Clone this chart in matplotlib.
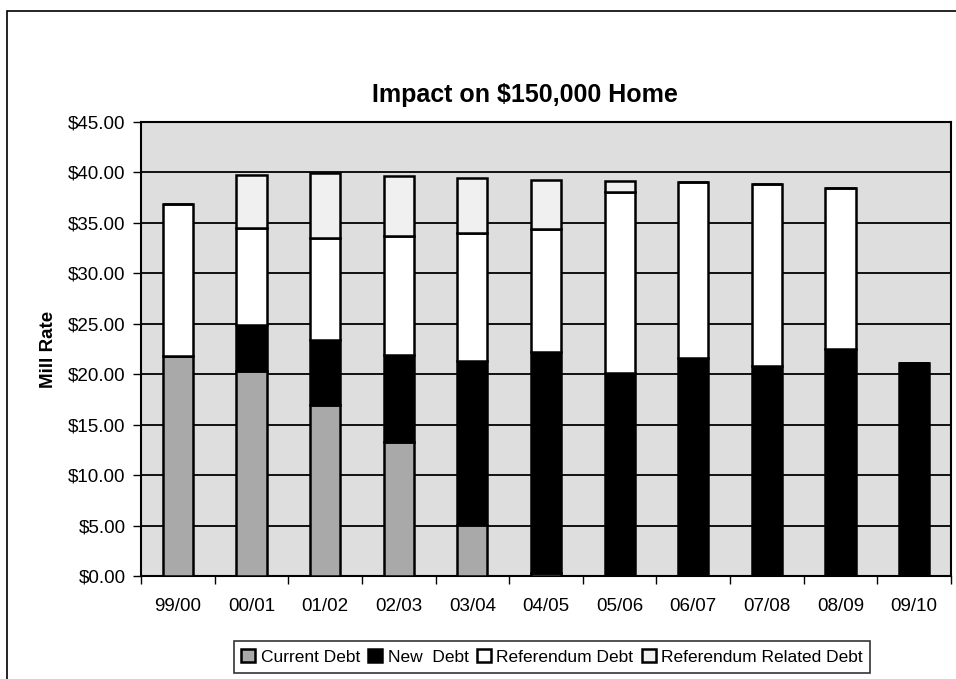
import matplotlib
matplotlib.use('Agg')
import matplotlib.pyplot as plt
import numpy as np
from matplotlib.patches import Rectangle

plt.rcParams['font.family'] = ['Liberation Sans', 'DejaVu Sans']

# fiscal years
categories = ['99/00', '00/01', '01/02', '02/03', '03/04', '04/05',
              '05/06', '06/07', '07/08', '08/09', '09/10']

# mill rate pieces
current_debt = [21.8, 20.35, 16.95, 13.3, 5.05, 0.3, 0, 0, 0, 0, 0]
new_debt = [0, 4.55, 6.45, 8.6, 16.25, 21.9, 20.1, 21.6, 20.85, 22.5, 21.1]
referendum_debt = [15.05, 9.6, 10.1, 11.8, 12.7, 12.2, 18.0, 17.45, 18.0, 16.0, 0]
referendum_related = [0, 5.2, 6.4, 5.9, 5.4, 4.9, 1.1, 0, 0, 0, 0]

y_ticks = [0, 5, 10, 15, 20, 25, 30, 35, 40, 45]


def draw_chart():
    fig = plt.figure(figsize=(9.56, 6.79), dpi=100)
    ax = fig.add_axes([141 / 956, 103 / 679, 810 / 956, 454 / 679])
    ax.set_facecolor('#dedede')

    x = np.arange(len(categories))
    w = 0.41
    bottom = np.zeros(len(categories))
    series = [
        (current_debt, '#a9a9a9', 'Current Debt'),
        (new_debt, 'black', 'New  Debt'),
        (referendum_debt, 'white', 'Referendum Debt'),
        (referendum_related, '#f0f0f0', 'Referendum Related Debt'),
    ]
    for vals, col, name in series:
        vals = np.array(vals)
        ax.bar(x, vals, w, bottom=bottom, color=col, edgecolor='black',
               linewidth=1.8, label=name, zorder=3)
        bottom += vals

    ax.set_xlim(-0.5, len(categories) - 0.5)
    ax.set_ylim(0, 45)
    ax.set_yticks(y_ticks)
    ax.set_yticklabels(['$%.2f' % v for v in y_ticks], fontsize=13.5)
    ax.set_xticks(x)
    ax.set_xticklabels(categories, fontsize=13.5)
    ax.tick_params(axis='x', length=0, pad=16)
    # excel style ticks between categories
    ax.set_xticks(np.arange(len(categories) + 1) - 0.5, minor=True)
    ax.tick_params(axis='x', which='minor', length=6, direction='out', width=1)
    ax.tick_params(axis='y', length=6, direction='out', width=1, pad=5)

    ax.grid(axis='y', color='black', linewidth=1.3, zorder=1)
    for s in ax.spines.values():
        s.set_linewidth(1.5)

    ax.set_ylabel('Mill Rate', fontsize=13.5, fontweight='bold', labelpad=8)
    fig.text(0.549, 0.86, 'Impact on $150,000 Home', fontsize=18,
             fontweight='bold', ha='center', va='center')

    leg = fig.legend(loc='center', bbox_to_anchor=(552 / 956, 1 - 657 / 679),
                     ncol=4, fontsize=12.5, frameon=True, fancybox=False,
                     edgecolor='black', handlelength=0.8, handleheight=0.8,
                     handletextpad=0.3, columnspacing=0.5, borderpad=0.45)
    leg.get_frame().set_linewidth(1.2)

    # outer chart border (right and bottom fall off the page)
    fig.patches.append(Rectangle((7 / 956, -0.05), 1.0, 1.05 - 11 / 679,
                                 transform=fig.transFigure, fill=False,
                                 edgecolor='black', linewidth=1.2))

    plt.savefig('out.png', dpi=100)


def main():
    draw_chart()
    print("DONE")


if __name__ == "__main__":
    main()
